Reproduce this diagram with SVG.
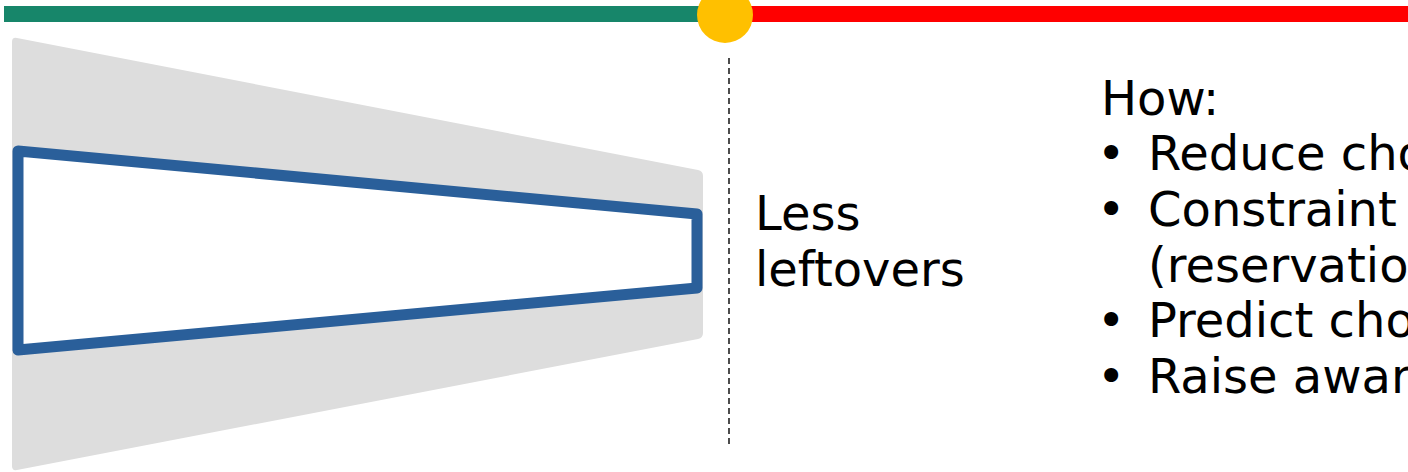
<svg xmlns="http://www.w3.org/2000/svg" width="1408" height="472" viewBox="0 0 1408 472">
<style>
.t{font-family:"DejaVu Sans",sans-serif;font-size:48px;fill:#000}
</style>
<rect width="1408" height="472" fill="#fff"/>
<g id="timeline">
<rect x="4" y="6" width="700" height="16" fill="#17866a"/>
<rect x="704" y="6" width="704" height="16" fill="#ff0000"/>
<circle cx="725" cy="15" r="28" fill="#ffc000"/>
</g>
<g id="funnel">
<path d="M12 42 Q12 37 17 38 L698 170 Q703 171 703 176 L703 333 Q703 338 698 339 L17 470 Q12 471 12 466 Z" fill="#dddddd"/>
<polygon points="18,151 697,214 697,288 18,350" fill="#fff" stroke="#2a5f9a" stroke-width="11" stroke-linejoin="round"/>
</g>
<g id="connectors">
<line x1="729" y1="58" x2="729" y2="445" stroke="#000" stroke-width="1.4" stroke-dasharray="6,4"/>
</g>
<g id="label">
<text class="t" x="755" y="230">Less</text>
<text class="t" x="755" y="286">leftovers</text>
</g>
<g id="how">
<text class="t" x="1101" y="115">How:</text>
<text class="t" x="1097" y="170">•</text><text class="t" x="1148" y="170">Reduce cho</text>
<text class="t" x="1097" y="226">•</text><text class="t" x="1148" y="226">Constraint</text>
<text class="t" x="1148" y="282">(reservatio</text>
<text class="t" x="1097" y="337">•</text><text class="t" x="1148" y="337">Predict cho</text>
<text class="t" x="1097" y="393">•</text><text class="t" x="1148" y="393">Raise awar</text>
</g>
</svg>
